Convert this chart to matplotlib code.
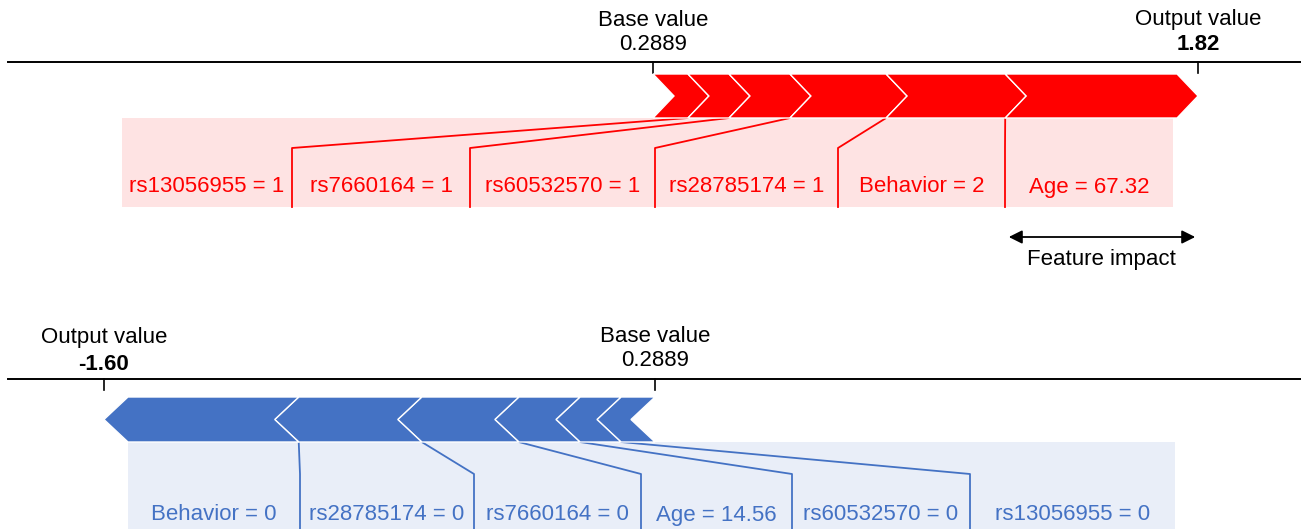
import matplotlib
matplotlib.use('Agg')
import matplotlib.pyplot as plt
from matplotlib.patches import Polygon, Rectangle
import numpy as np

plt.rcParams['font.family'] = ['Liberation Sans', 'DejaVu Sans']

base_value = 0.2889

# upper plot: features pushing the output up, from the base value outward
pos_names = ['rs13056955', 'rs7660164', 'rs60532570', 'rs28785174', 'Behavior', 'Age']
pos_values = ['1', '1', '1', '1', '2', '67.32']
pos_shap = [0.102, 0.120, 0.178, 0.281, 0.348, 0.502]

# lower plot: features pushing the output down, from the base value outward
neg_names = ['rs13056955', 'rs60532570', 'Age', 'rs7660164', 'rs28785174', 'Behavior']
neg_values = ['0', '0', '14.56', '0', '0', '0']
neg_shap = [-0.122, -0.147, -0.219, -0.348, -0.441, -0.612]

W, H = 1301, 529
fig = plt.figure(figsize=(W / 100, H / 100), dpi=100)


def force_panel(names, values, shap, base_px, scale, axis_y, bar_top, bar_bot,
                box_top, box_bot, elbow_y, text_y, edges, tip_px,
                color, light, out_dy):
    ax = fig.add_axes([0, 0, 1, 1])
    ax.set_xlim(base_value - base_px / scale, base_value + (W - base_px) / scale)
    ax.set_ylim(H, 0)
    ax.axis('off')
    ax.patch.set_alpha(0)

    def px2v(p):
        return base_value + (p - base_px) / scale

    output = base_value + sum(shap)
    sign = 1 if output > base_value else -1
    tip = tip_px / scale
    span = abs(output - base_value)
    k = (span - tip) / span
    corners = [base_value] + list(base_value + k * np.cumsum(shap))
    mid = (bar_top + bar_bot) / 2
    n = len(names)

    # arrows
    for i in range(n):
        a, b = corners[i], corners[i + 1]
        pts = [(a, bar_top), (b, bar_top), (b + sign * tip, mid), (b, bar_bot),
               (a, bar_bot), (a + sign * tip, mid)]
        ax.add_patch(Polygon(pts, closed=True, facecolor=color,
                             edgecolor='white', lw=1.0, zorder=3))

    # axis line + ticks
    ax.plot([px2v(8), px2v(W)], [axis_y, axis_y], color='black', lw=1.4)
    for v in [base_value, output]:
        ax.plot([v, v], [axis_y, axis_y + 11], color='black', lw=1.2)
    ax.text(base_value, axis_y - 42, 'Base value', ha='center', va='center', fontsize=16)
    ax.text(base_value, axis_y - 18, '%.4f' % base_value, ha='center', va='center', fontsize=16)
    ax.text(output, axis_y - 42, 'Output value', ha='center', va='center', fontsize=16)
    ax.text(output, axis_y - out_dy, '%.2f' % output, ha='center', va='center',
            fontsize=16, fontweight='bold')

    # label box
    x0, x1 = px2v(edges[0]), px2v(edges[-1])
    ax.add_patch(Rectangle((x0, box_top), x1 - x0, box_bot - box_top,
                           facecolor=light, edgecolor='none', zorder=1))

    for i in range(n):
        j = i if sign > 0 else n - 1 - i
        cx = px2v((edges[j] + edges[j + 1]) / 2)
        ax.text(cx, text_y, '%s = %s' % (names[i], values[i]), ha='center',
                va='center', fontsize=16, color=color, zorder=4)
        # connector from label edge to the segment's outer corner
        if sign > 0 and i < n - 1:
            ex, cv = px2v(edges[i + 1]), corners[i + 1]
        elif sign < 0 and i > 0:
            ex, cv = px2v(edges[n - i]), corners[i]
        else:
            continue
        ax.plot([ex, ex, cv], [box_bot, elbow_y, bar_bot], color=color, lw=1.3, zorder=2)
    return ax, px2v


ax1, p1 = force_panel(pos_names, pos_values, pos_shap, base_px=653, scale=356,
                      axis_y=62, bar_top=74, bar_bot=118, box_top=118, box_bot=207,
                      elbow_y=148, text_y=187,
                      edges=[122, 292, 470, 655, 838, 1005, 1173], tip_px=21,
                      color='#FF0000', light='#FEE3E3', out_dy=18)
ax1.annotate('', xy=(p1(1198), 237), xytext=(p1(1006), 237),
             arrowprops=dict(arrowstyle='<|-|>', color='black', lw=1.3, mutation_scale=20))
ax1.text(p1(1101), 260, 'Feature impact', ha='center', va='center', fontsize=16)

force_panel(neg_names, neg_values, neg_shap, base_px=655, scale=291.7,
            axis_y=379, bar_top=397, bar_bot=442, box_top=442, box_bot=560,
            elbow_y=474, text_y=515,
            edges=[128, 300, 474, 641, 792, 970, 1175], tip_px=24,
            color='#4472C4', light='#E9EEF8', out_dy=14)

plt.savefig('out.png', dpi=100)
